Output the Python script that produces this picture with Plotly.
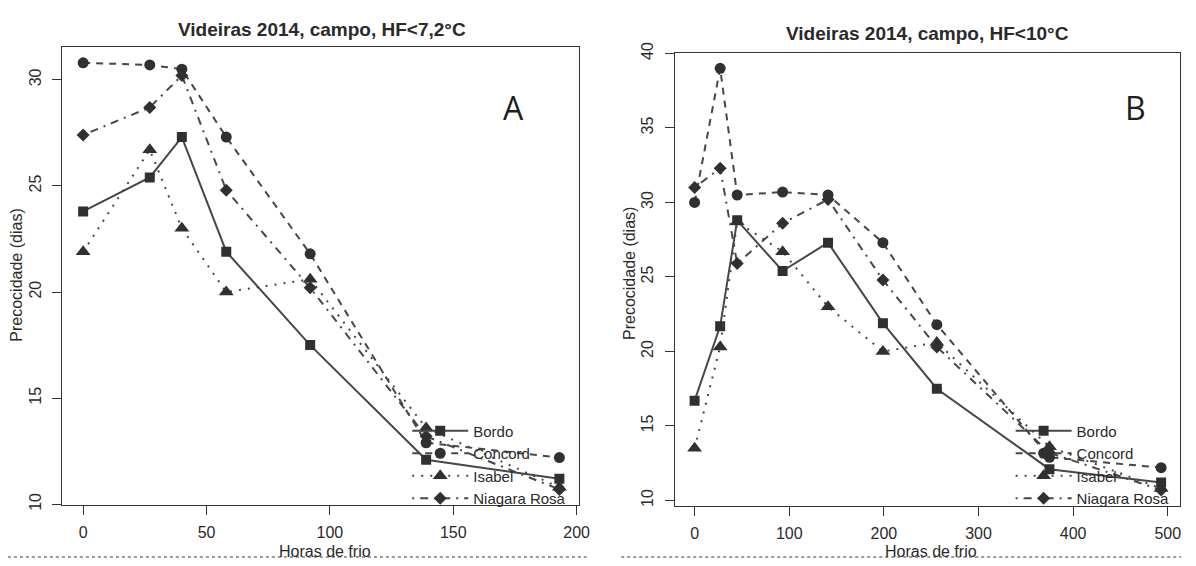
import plotly.graph_objects as go

W, H = 1196, 566

# ---- data: panel A (HF < 7,2 °C) ----
hours_a = [0, 27, 40, 58, 92, 139, 193]
bordo_a = [23.8, 25.4, 27.3, 21.9, 17.5, 12.1, 11.2]
concord_a = [30.8, 30.7, 30.5, 27.3, 21.8, 12.9, 12.2]
isabel_a = [21.9, 26.7, 23.0, 20.0, 20.6, 13.6, 10.8]
niagara_a = [27.4, 28.7, 30.2, 24.8, 20.2, 13.2, 10.7]

# ---- data: panel B (HF < 10 °C) ----
hours_b = [0, 27, 45, 93, 141, 199, 256, 375, 493]
bordo_b = [16.7, 21.7, 28.8, 25.4, 27.3, 21.9, 17.5, 12.1, 11.2]
concord_b = [30.0, 39.0, 30.5, 30.7, 30.5, 27.3, 21.8, 12.9, 12.2]
isabel_b = [13.5, 20.3, 28.7, 26.7, 23.0, 20.0, 20.6, 13.6, 10.8]
niagara_b = [31.0, 32.3, 25.9, 28.6, 30.2, 24.8, 20.3, 13.2, 10.7]

names = ["Bordo", "Concord", "Isabel", "Niagara Rosa"]
xticks_a = [0, 50, 100, 150, 200]
xticks_b = [0, 100, 200, 300, 400, 500]
yticks_a = [10, 15, 20, 25, 30]
yticks_b = [10, 15, 20, 25, 30, 35, 40]

symbols = ["square", "circle", "triangle-up", "diamond"]
sizes = [10, 11, 13, 10]
dashes = ["solid", "7px,6px", "2px,7px", "2px,6px,8px,6px"]
LINE = "#474747"
MARK = "#303030"
TXT = "#2a2a2a"
FONT = "Liberation Sans, Arial, sans-serif"

fig = go.Figure()

series_a = [bordo_a, concord_a, isabel_a, niagara_a]
series_b = [bordo_b, concord_b, isabel_b, niagara_b]

for i, ys in enumerate(series_a):
    fig.add_trace(go.Scatter(
        x=hours_a, y=ys, name=names[i], mode="lines+markers",
        line=dict(color=LINE, width=2, dash=dashes[i]),
        marker=dict(symbol=symbols[i], size=sizes[i], color=MARK),
        xaxis="x", yaxis="y", legend="legend"))

for i, ys in enumerate(series_b):
    fig.add_trace(go.Scatter(
        x=hours_b, y=ys, name=names[i], mode="lines+markers",
        line=dict(color=LINE, width=2, dash=dashes[i]),
        marker=dict(symbol=symbols[i], size=sizes[i], color=MARK),
        xaxis="x2", yaxis="y2", legend="legend2"))

def px(v):
    return v / W

def py(v):
    return 1 - v / H

axis_common = dict(
    showline=True, mirror=True, linecolor="#333", linewidth=1.3,
    ticks="outside", ticklen=9, tickcolor="#333", tickwidth=1.3,
    showgrid=False, zeroline=False,
    tickfont=dict(family=FONT, size=16, color=TXT),
)

legend_common = dict(xanchor="left", yanchor="top", bgcolor="rgba(0,0,0,0)",
                     font=dict(family=FONT, size=15, color=TXT),
                     tracegroupgap=0, itemwidth=56)

fig.update_layout(
    width=W, height=H,
    margin=dict(l=0, r=0, t=0, b=0),
    paper_bgcolor="white", plot_bgcolor="white",
    font=dict(family=FONT, color=TXT),
    xaxis=dict(domain=[px(63), px(584)], anchor="y", range=[-8.4, 200.8],
               tickvals=xticks_a, ticklabelstandoff=4, **axis_common),
    yaxis=dict(domain=[py(509), py(37)], anchor="x", range=[9.98, 31.55],
               tickvals=yticks_a, tickangle=-90, ticklabelstandoff=5, **axis_common),
    xaxis2=dict(domain=[px(681), px(1191)], anchor="y2", range=[-21, 513],
                tickvals=xticks_b, ticklabelstandoff=4, **axis_common),
    yaxis2=dict(domain=[py(510), py(43)], anchor="x2", range=[9.65, 40.05],
                tickvals=yticks_b, tickangle=-90, ticklabelstandoff=5, **axis_common),
    legend=dict(x=px(411), y=py(416), **legend_common),
    legend2=dict(x=px(1020), y=py(416), **legend_common),
    showlegend=True,
)

ann = [
    dict(text="<b>Videiras 2014, campo, HF<7,2°C</b>", x=px(325), y=py(19),
         font=dict(size=19)),
    dict(text="<b>Videiras 2014, campo, HF<10°C</b>", x=px(936), y=py(23),
         font=dict(size=19)),
    dict(text="Horas de frio", x=px(328), y=py(557), font=dict(size=16)),
    dict(text="Horas de frio", x=px(940), y=py(557), font=dict(size=16)),
    dict(text="Precocidade (dias)", x=px(17), y=py(272), textangle=-90,
         font=dict(size=16)),
    dict(text="Precocidade (dias)", x=px(636), y=py(271), textangle=-90,
         font=dict(size=16)),
    dict(text="A", x=px(518), y=py(100),
         font=dict(size=32, family="Open Sans, Lato, sans-serif", color="#1e1e1e")),
    dict(text="B", x=px(1146), y=py(100),
         font=dict(size=32, family="Open Sans, Lato, sans-serif", color="#1e1e1e")),
]
for a in ann:
    a.update(xref="paper", yref="paper", showarrow=False, xanchor="center", yanchor="middle")
    a["font"] = dict(dict(family=FONT, color=TXT), **a["font"])
fig.update_layout(annotations=ann)

# scan page rule at the bottom
fig.add_shape(type="line", xref="paper", yref="paper", x0=px(8), x1=px(592),
              y0=py(563), y1=py(563), line=dict(color="#9a9a9a", width=2, dash="dot"))
fig.add_shape(type="line", xref="paper", yref="paper", x0=px(627), x1=px(1192),
              y0=py(563), y1=py(563), line=dict(color="#9a9a9a", width=2, dash="dot"))

fig.write_html(
    "out.html",
    config={"displayModeBar": False},
    post_script="document.body.style.margin='0';document.body.style.overflow='hidden';"
                "document.documentElement.style.overflow='hidden';",
)
